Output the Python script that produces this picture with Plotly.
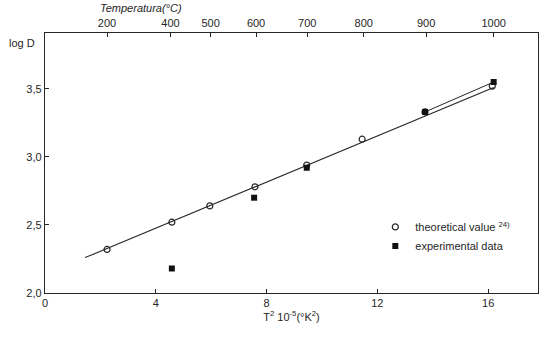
import plotly.graph_objects as go

# ---- data ----
theo_x = [2.24, 4.58, 5.95, 7.58, 9.45, 11.45, 13.72, 16.15]
theo_y = [2.32, 2.52, 2.64, 2.78, 2.94, 3.13, 3.33, 3.52]
exp_x = [4.58, 7.55, 9.45, 13.72, 16.2]
exp_y = [2.18, 2.70, 2.92, 3.33, 3.55]
fit_x = [1.45, 16.2]
fit_y = [2.26, 3.51]
fit2_x = [13.72, 16.2]
fit2_y = [3.33, 3.55]

x_ticks = [0, 4, 8, 12, 16]
x_labels = ["0", "4", "8", "12", "16"]
y_ticks = [2.0, 2.5, 3.0, 3.5]
y_labels = ["2,0", "2,5", "3,0", "3,5"]
top_ticks = [2.24, 4.53, 5.98, 7.62, 9.47, 11.51, 13.76, 16.2]
top_labels = ["200", "400", "500", "600", "700", "800", "900", "1000"]

FONT = "Liberation Sans Narrow, Liberation Sans, Arial"
INK = "#262626"

fig = go.Figure()
fig.add_trace(go.Scatter(x=fit_x, y=fit_y, mode="lines",
                         line=dict(color=INK, width=1.1), showlegend=False, hoverinfo="skip"))
fig.add_trace(go.Scatter(x=fit2_x, y=fit2_y, mode="lines",
                         line=dict(color=INK, width=1), showlegend=False, hoverinfo="skip"))
fig.add_trace(go.Scatter(x=theo_x, y=theo_y, mode="markers", name="theoretical value <sup>24)</sup>",
                         marker=dict(symbol="circle-open", size=6, color=INK, line=dict(width=1.2))))
fig.add_trace(go.Scatter(x=exp_x, y=exp_y, mode="markers", name="experimental data",
                         marker=dict(symbol="square", size=6, color="#111111")))
# invisible trace to activate top axis
fig.add_trace(go.Scatter(x=[0, 17.8], y=[2, 2], xaxis="x2", mode="markers",
                         marker=dict(opacity=0), showlegend=False, hoverinfo="skip"))

fig.update_layout(
    width=543, height=340,
    margin=dict(l=45, r=5, t=33, b=47),
    paper_bgcolor="white", plot_bgcolor="white",
    font=dict(family=FONT, size=11, color=INK),
    xaxis=dict(range=[0, 17.8], tickvals=x_ticks, ticktext=x_labels,
               showgrid=False, zeroline=False, showline=True, linecolor=INK, linewidth=1.3,
               ticks="inside", ticklen=4, tickcolor=INK,
               title=dict(text="T<sup>2</sup> 10<sup>-5</sup>(°K<sup>2</sup>)", standoff=4,
                          font=dict(size=11))),
    xaxis2=dict(range=[0, 17.8], overlaying="x", side="top", tickvals=top_ticks,
                ticktext=top_labels, showgrid=False, zeroline=False, showline=True,
                linecolor=INK, linewidth=1.3, ticks="inside", ticklen=4, tickcolor=INK,
                mirror=False),
    yaxis=dict(range=[2.0, 3.91], tickvals=y_ticks, ticktext=y_labels,
               showgrid=False, zeroline=False, showline=True, linecolor=INK, linewidth=1.3,
               ticks="inside", ticklen=4, tickcolor=INK, mirror=True),
    legend=dict(x=0.67, y=0.31, xanchor="left", yanchor="top", bgcolor="rgba(0,0,0,0)",
                font=dict(size=11), itemwidth=30, tracegroupgap=0),
    showlegend=True,
)

fig.add_annotation(text="<i>Temperatura(°C)</i>", xref="paper", yref="paper", x=0.107, y=1.0,
                   yshift=25, xanchor="left", yanchor="middle", showarrow=False,
                   font=dict(size=11, family=FONT, color=INK))
fig.add_annotation(text="log D", xref="paper", yref="paper", x=0, y=0.96, xshift=-8,
                   xanchor="right", yanchor="middle", showarrow=False,
                   font=dict(size=11, family=FONT, color=INK))

fig.write_html("out.html")
